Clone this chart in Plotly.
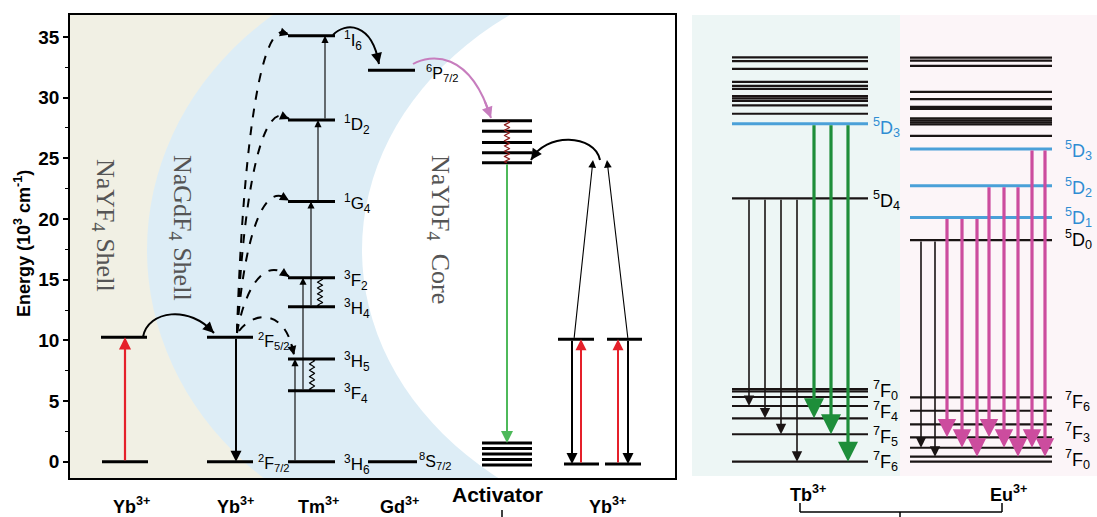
import numpy as np
import plotly.graph_objects as go

# ---------------- data : energies in 10^3 cm^-1 ----------------
yb_shell_levels = [0.0, 10.25]          # Yb3+ in NaYF4 shell
yb_mid_levels = [0.0, 10.25]            # Yb3+ in NaGdF4 shell (2F7/2, 2F5/2)
tm_names = ["3H6", "3F4", "3H5", "3H4", "3F2", "1G4", "1D2", "1I6"]
tm_levels = [0.0, 5.85, 8.46, 12.77, 15.16, 21.45, 28.15, 35.09]
gd_levels = [0.0, 32.25]                # 8S7/2, 6P7/2
act_upper = [28.09, 27.22, 26.31, 25.45, 24.63]
act_lower = [1.54, 1.09, 0.63, 0.18, -0.27]
yb_core_levels = [-0.19, 10.08]

tb_upper = [33.31, 33.01, 32.37, 31.30, 30.97, 30.72, 30.12, 29.93, 29.74, 29.36, 28.67]
tb_5d3 = 27.84
tb_5d4 = 21.70
tb_7f = [5.99, 5.80, 5.33, 4.59, 3.57, 2.26, 0.0]      # 7F0 ... 7F6
eu_upper = [33.29, 33.05, 32.62, 30.48, 29.88, 29.24, 29.08, 28.29, 28.12, 27.96, 27.79, 26.85]
eu_5d = [18.26, 20.13, 22.73, 25.76]                    # 5D0 ... 5D3
eu_7f = [0.0, 0.41, 1.15, 2.01, 3.08, 4.20, 5.30]       # 7F0 ... 7F6

tb_black_targets = [3, 4, 5, 6]          # 5D4 -> 7Fj
tb_green_targets = [4, 5, 6]             # 5D3 -> 7Fj
eu_black_targets = [2, 1]                # 5D0 -> 7Fj
eu_pink = [(1, 3), (1, 2), (1, 1), (2, 3), (2, 2), (2, 1), (3, 2), (3, 1)]   # (5Dj, 7Fj)

y_ticks = [0, 5, 10, 15, 20, 25, 30, 35]

# ---------------- geometry helpers ----------------
W, H = 1097, 517
ML, MR, MT, MB = 70, 0, 15, 39
PW, PH = W - ML - MR, H - MT - MB
Y0_PX = 461.7
PX_PER_E = 12.136


def e_at(py):
    return (Y0_PX - py) / PX_PER_E


def px_at(e):
    return Y0_PX - e * PX_PER_E


def xp(px):
    return (px - ML) / PW


def yp(py):
    return (MT + PH - py) / PH


YR = [e_at(MT + PH), e_at(MT)]
FONT = "Arial, Liberation Sans, sans-serif"
SERIF = "Times New Roman, Liberation Serif, serif"

fig = go.Figure()
ann = []
shapes = []


def seg_trace(segs, color, width, xa="x", ya="y"):
    xs, ys = [], []
    for x0, x1, e in segs:
        xs += [x0, x1, None]
        ys += [e, e, None]
    fig.add_trace(go.Scatter(x=xs, y=ys, mode="lines", line=dict(color=color, width=width),
                             xaxis=xa, yaxis=ya, hoverinfo="skip", showlegend=False))


def arrow(x_tail, e_tail, x_head, e_head, color, width, size=1.0, head=2, xa="x", ya="y"):
    ann.append(dict(x=x_head, y=e_head, ax=x_tail, ay=e_tail, xref=xa, yref=ya, axref=xa, ayref=ya,
                    text="", showarrow=True, arrowhead=head, arrowsize=size, arrowwidth=width,
                    arrowcolor=color, standoff=0, font=dict(size=1)))


def bez(p0, p1, p2, p3, t):
    a, b, c, d = (1 - t) ** 3, 3 * (1 - t) ** 2 * t, 3 * (1 - t) * t ** 2, t ** 3
    return (a * p0[0] + b * p1[0] + c * p2[0] + d * p3[0], a * p0[1] + b * p1[1] + c * p2[1] + d * p3[1])


def curve(p0, p1, p2, p3, color, width, dash="solid", size=1.0, head=2, t_tail=0.9):
    path = "M {},{} C {},{} {},{} {},{}".format(p0[0], e_at(p0[1]), p1[0], e_at(p1[1]),
                                                p2[0], e_at(p2[1]), p3[0], e_at(p3[1]))
    shapes.append(dict(type="path", path=path, xref="x", yref="y",
                       line=dict(color=color, width=width, dash=dash), layer="above"))
    tail = bez(p0, p1, p2, p3, t_tail)
    arrow(tail[0], e_at(tail[1]), p3[0], e_at(p3[1]), color, width, size, head)


def wavy(xc, e_top, e_bot, periods, amp, color, width, xa="x", ya="y"):
    t = np.linspace(0, 1, 240)
    pys = px_at(e_top) + (px_at(e_bot) - px_at(e_top)) * t
    xs = xc + amp * np.sin(2 * np.pi * periods * t)
    fig.add_trace(go.Scatter(x=xs, y=[e_at(v) for v in pys], mode="lines",
                             line=dict(color=color, width=width), xaxis=xa, yaxis=ya,
                             hoverinfo="skip", showlegend=False))


def label(text, x, py, size=17, color="black", xa="x", ya="y", anchor="left"):
    ann.append(dict(x=x, y=e_at(py), xref=xa, yref=ya, text=text, showarrow=False,
                    xanchor=anchor, yanchor="middle",
                    font=dict(family=FONT, size=size, color=color)))


def lev(name):
    return "<sup>{}</sup>{}<sub>{}</sub>".format(name[0], name[1], name[2:])


# ---------------- backgrounds ----------------
shapes.append(dict(type="rect", xref="x", yref="y", x0=70, x1=675, y0=YR[0], y1=YR[1],
                   fillcolor="#F1F0E4", line=dict(width=0), layer="below"))
shapes.append(dict(type="circle", xref="x", yref="y", x0=147, x1=813, y0=e_at(550), y1=e_at(-50),
                   fillcolor="#DDEDF6", line=dict(width=0), layer="below"))
shapes.append(dict(type="circle", xref="x", yref="y", x0=362, x1=1076, y0=e_at(540), y1=e_at(-40),
                   fillcolor="#FFFFFF", line=dict(width=0), layer="below"))
shapes.append(dict(type="rect", xref="x2", yref="y2", x0=692, x1=900, y0=e_at(476), y1=e_at(14),
                   fillcolor="#EDF6F5", line=dict(width=0), layer="below"))
shapes.append(dict(type="rect", xref="x2", yref="y2", x0=900, x1=1097, y0=e_at(476), y1=e_at(14),
                   fillcolor="#FCF5F8", line=dict(width=0), layer="below"))

# ---------------- left diagram : levels ----------------
segs = []
segs += [(102, 148, yb_shell_levels[0]), (101, 147, yb_shell_levels[1])]
segs += [(207, 253, e) for e in yb_mid_levels]
segs += [(288, 335, e) for e in tm_levels]
segs += [(368, 417, gd_levels[0]), (368, 415, gd_levels[1])]
segs += [(482, 532, e) for e in act_upper + act_lower]
segs += [(564, 599, yb_core_levels[0]), (558, 594, yb_core_levels[1])]
segs += [(605, 641, yb_core_levels[0]), (607, 642, yb_core_levels[1])]
seg_trace(segs, "black", 3)

# wavy relaxations
wavy(320, tm_levels[4], tm_levels[3], 5, 2.5, "black", 1.2)
wavy(312, tm_levels[2], tm_levels[1], 5, 2.5, "black", 1.2)
wavy(507, act_upper[0], act_upper[-1], 8, 2.5, "#8E1B1B", 1.2)

# straight arrows
arrow(125, yb_shell_levels[0], 125, yb_shell_levels[1], "#E5202A", 2.2, 1.1)
arrow(236, yb_mid_levels[1], 236, yb_mid_levels[0], "black", 2, 1.1)
tm_pump = [(295, 0, 2), (303, 1, 4), (311, 3, 5), (318, 5, 6), (325, 6, 7)]
for x, i0, i1 in tm_pump:
    arrow(x, tm_levels[i0], x, tm_levels[i1], "black", 1.1, 1.3)
arrow(507, act_upper[-1], 507, act_lower[0], "#4DB95A", 2, 1.2)
arrow(572, yb_core_levels[1], 572, yb_core_levels[0], "black", 2, 1.1)
arrow(581, yb_core_levels[0], 581, yb_core_levels[1], "#E5202A", 2, 1.1)
arrow(618, yb_core_levels[0], 618, yb_core_levels[1], "#E5202A", 2, 1.1)
arrow(628, yb_core_levels[1], 628, yb_core_levels[0], "black", 2, 1.1)
arrow(574, yb_core_levels[1], 593, e_at(160), "black", 1.1, 1.4)
arrow(628, yb_core_levels[1], 607, e_at(160), "black", 1.1, 1.4)

# curved energy-transfer arrows (pixel control points)
curve((143, 337), (148, 310), (190, 305), (214, 333), "black", 2, size=1.1)
for i in [4, 5, 6, 7]:
    pt = px_at(tm_levels[i])
    curve((237, 333), (243, pt + 0.35 * (333 - pt)), (262, pt - 25), (289, pt - 1),
          "black", 2, dash="dash", size=0.9)
curve((239, 331), (254, 311), (286, 308), (294, px_at(tm_levels[2]) - 4), "black", 2, dash="dash", size=0.9)
curve((333, 35), (345, 22), (372, 22), (379, 64), "black", 2, size=1.1)
curve((413, 64), (430, 54), (470, 50), (491, 118), "#C77DBE", 2, size=1.1)
curve((600, 160), (595, 134), (545, 132), (531, 160), "black", 2, size=1.1)

# level labels (left)
label(lev("2F5/2"), 256, 341, size=16)
label(lev("2F7/2"), 256, 463, size=16)
tm_label_py = [464, 393, 361, 308, 280, 203, 124, 40]
for nm, py in zip(tm_names, tm_label_py):
    label(lev(nm), 342, py)
label(lev("6P7/2"), 424, 73, size=16)
label(lev("8S7/2"), 417, 461, size=16)

# shell texts
for txt, x, py in [("NaYF<sub>4</sub> Shell", 104, 225), ("NaGdF<sub>4</sub> Shell", 181, 228),
                   ("NaYbF<sub>4</sub>  Core", 439, 229)]:
    ann.append(dict(x=x, y=e_at(py), xref="x", yref="y", text=txt, showarrow=False, textangle=90,
                    xanchor="center", yanchor="middle", font=dict(family=SERIF, size=26, color="#555555")))

# ---------------- right diagram ----------------
tb_x0, tb_x1 = 732, 868
eu_x0, eu_x1 = 910, 1052
seg_trace([(tb_x0, tb_x1, e) for e in tb_upper + [tb_5d4] + tb_7f] +
          [(eu_x0, eu_x1, e) for e in eu_upper + [eu_5d[0]] + eu_7f], "#1A1414", 2.2, "x2", "y2")
seg_trace([(tb_x0, tb_x1, tb_5d3)] + [(eu_x0, eu_x1, e) for e in eu_5d[1:]], "#4AA0D8", 3, "x2", "y2")

for x, j in zip([749, 765, 781, 797], tb_black_targets):
    arrow(x, tb_5d4, x, tb_7f[j], "#1A1414", 1.6, 1.3, xa="x2", ya="y2")
for x, j in zip([814, 831, 848], tb_green_targets):
    arrow(x, tb_5d3, x, tb_7f[j], "#1E8E3A", 3.2, 1.25, xa="x2", ya="y2")
for x, j in zip([921, 935], eu_black_targets):
    arrow(x, eu_5d[0], x, eu_7f[j], "#1A1414", 1.6, 1.3, xa="x2", ya="y2")
for x, (i, j) in zip([947, 962, 977, 989, 1004, 1018, 1032, 1045], eu_pink):
    arrow(x, eu_5d[i], x, eu_7f[j], "#CC4C9E", 3.2, 1.15, xa="x2", ya="y2")

BLUE = "#2F8DD3"
RS = 18
label(lev("5D3"), 871, 127, size=RS, color=BLUE, xa="x2", ya="y2")
label(lev("5D4"), 871, 200, size=RS, xa="x2", ya="y2")
label(lev("7F0"), 871, 390, size=RS, xa="x2", ya="y2")
label(lev("7F4"), 871, 411, size=RS, xa="x2", ya="y2")
label(lev("7F5"), 871, 436, size=RS, xa="x2", ya="y2")
label(lev("7F6"), 871, 461, size=RS, xa="x2", ya="y2")
label(lev("5D3"), 1063, 150, size=RS, color=BLUE, xa="x2", ya="y2")
label(lev("5D2"), 1063, 187, size=RS, color=BLUE, xa="x2", ya="y2")
label(lev("5D1"), 1063, 217, size=RS, color=BLUE, xa="x2", ya="y2")
label(lev("5D0"), 1063, 239, size=RS, xa="x2", ya="y2")
label(lev("7F6"), 1063, 401, size=RS, xa="x2", ya="y2")
label(lev("7F3"), 1063, 432, size=RS, xa="x2", ya="y2")
label(lev("7F0"), 1063, 459, size=RS, xa="x2", ya="y2")

# ---------------- category labels under the panels ----------------
cats = [("Yb<sup>3+</sup>", 131, 506, 18), ("Yb<sup>3+</sup>", 235, 506, 18), ("Tm<sup>3+</sup>", 318, 506, 18),
        ("Gd<sup>3+</sup>", 399, 506, 18), ("Activator", 497, 494, 21), ("Yb<sup>3+</sup>", 607, 506, 18),
        ("Tb<sup>3+</sup>", 808, 493, 18), ("Eu<sup>3+</sup>", 1008, 493, 18)]
for txt, x, py, sz in cats:
    ann.append(dict(x=xp(x), y=yp(py), xref="paper", yref="paper", text="<b>" + txt + "</b>",
                    showarrow=False, xanchor="center", yanchor="middle",
                    font=dict(family=FONT, size=sz, color="black")))

for x0, y0, x1, y1 in [(800, 503, 800, 512), (800, 512, 1002, 512), (1002, 512, 1002, 503),
                       (900, 512, 900, 518), (502, 510, 502, 518)]:
    shapes.append(dict(type="line", xref="paper", yref="paper", x0=xp(x0), y0=yp(y0), x1=xp(x1), y1=yp(y1),
                       line=dict(color="black", width=1.5)))

# y-axis title
ann.append(dict(x=xp(22), y=yp(244), xref="paper", yref="paper",
                text="<b>Energy (10<sup>3</sup> cm<sup>-1</sup>)</b>", showarrow=False, textangle=-90,
                xanchor="center", yanchor="middle", font=dict(family=FONT, size=18, color="black")))

fig.update_layout(
    width=W, height=H, margin=dict(l=ML, r=MR, t=MT, b=MB, pad=0),
    paper_bgcolor="white", plot_bgcolor="white", showlegend=False,
    xaxis=dict(domain=[0, xp(675)], range=[70, 675], showline=True, mirror=True, linecolor="black",
               linewidth=1.5, showticklabels=False, ticks="", showgrid=False, zeroline=False, anchor="y"),
    yaxis=dict(domain=[0, 1], range=YR, showline=True, mirror=True, linecolor="black", linewidth=1.5,
               ticks="outside", ticklen=5, tickwidth=1.5, tickcolor="black", tickvals=y_ticks,
               tickfont=dict(family=FONT, size=19, color="black", weight="bold"),
               minor=dict(ticks="outside", ticklen=3, tickwidth=1, tickcolor="black", dtick=2.5, tick0=0),
               showgrid=False, zeroline=False, anchor="x"),
    xaxis2=dict(domain=[xp(692), 1], range=[692, 1097], visible=False, anchor="y2"),
    yaxis2=dict(domain=[0, 1], range=YR, visible=False, anchor="x2"),
    shapes=shapes, annotations=ann,
)

fig.write_html("out.html")
